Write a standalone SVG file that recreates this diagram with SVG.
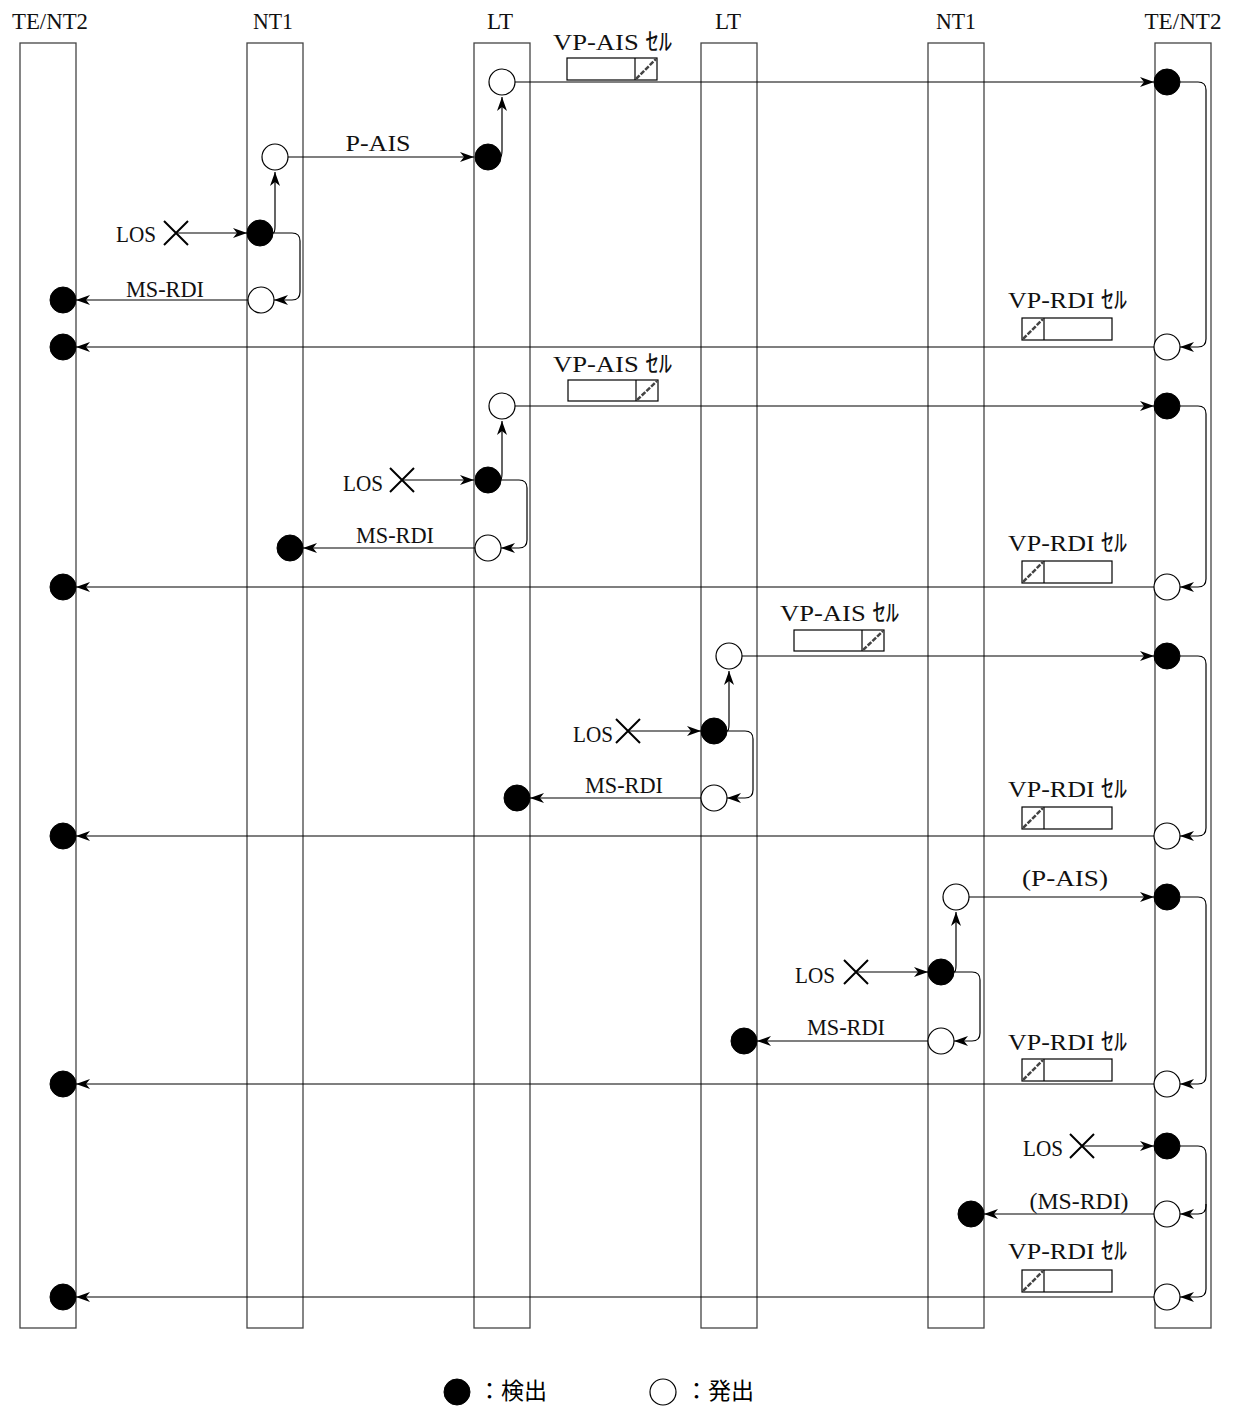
<svg xmlns="http://www.w3.org/2000/svg" width="1240" height="1407" viewBox="0 0 1240 1407">
<style>
.life{fill:#fff;stroke:#444;stroke-width:1.3}
.t{font-family:"Liberation Serif","Noto Sans CJK JP",serif;font-size:24px;fill:#111}
.lg{font-family:"Noto Sans CJK JP",sans-serif;font-size:23px;fill:#000}
.c{fill:none;stroke:#000;stroke-width:1.2}
.ar{marker-end:url(#arr)}
.det{fill:#000;stroke:#000;stroke-width:1}
.emi{fill:#fff;stroke:#000;stroke-width:1.2}
.x{stroke:#000;stroke-width:2;fill:none}
.cell{fill:#fff;stroke:#000;stroke-width:1.2}
.hat{stroke:#444;stroke-width:2.5;stroke-dasharray:5 1.5;fill:none}
</style>
<defs>
<marker id="arr" markerUnits="userSpaceOnUse" markerWidth="15" markerHeight="12" refX="14" refY="5" orient="auto">
<path d="M0,0 L14,5 L0,10 L4,5 z" fill="#000"/>
</marker>
</defs>
<rect width="1240" height="1407" fill="#fff"/>

<g id="lifelines">
<g id="te-left"><rect class="life" x="20" y="43" width="56" height="1285"/><text class="t" x="50" y="29" text-anchor="middle" textLength="76" lengthAdjust="spacingAndGlyphs">TE/NT2</text></g>
<g id="nt1-left"><rect class="life" x="247" y="43" width="56" height="1285"/><text class="t" x="273" y="29" text-anchor="middle" textLength="40" lengthAdjust="spacingAndGlyphs">NT1</text></g>
<g id="lt-left"><rect class="life" x="474" y="43" width="56" height="1285"/><text class="t" x="500" y="29" text-anchor="middle" textLength="26" lengthAdjust="spacingAndGlyphs">LT</text></g>
<g id="lt-right"><rect class="life" x="701" y="43" width="56" height="1285"/><text class="t" x="728" y="29" text-anchor="middle" textLength="26" lengthAdjust="spacingAndGlyphs">LT</text></g>
<g id="nt1-right"><rect class="life" x="928" y="43" width="56" height="1285"/><text class="t" x="956" y="29" text-anchor="middle" textLength="40" lengthAdjust="spacingAndGlyphs">NT1</text></g>
<g id="te-right"><rect class="life" x="1155" y="43" width="56" height="1285"/><text class="t" x="1183" y="29" text-anchor="middle" textLength="77" lengthAdjust="spacingAndGlyphs">TE/NT2</text></g>
</g>

<g id="connectors">
<!-- section 1 -->
<path class="c ar" d="M515,82 H1154"/>
<path class="c ar" d="M288,157 H474"/>
<path class="c ar" d="M500,157 Q502,157 502,150 V97"/>
<path class="c ar" d="M176,233 H247"/>
<path class="c ar" d="M273,233 Q275,233 275,226 V172"/>
<path class="c ar" d="M273,233 H292 Q300,233 300,241 V292 Q300,300 292,300 H274"/>
<path class="c ar" d="M248,300 H76"/>
<path class="c ar" d="M1180,82 H1198 Q1206,82 1206,90 V339 Q1206,347 1198,347 H1180"/>
<path class="c ar" d="M1154,347 H76"/>
<!-- section 2 -->
<path class="c ar" d="M515,406 H1154"/>
<path class="c ar" d="M402,480 H474"/>
<path class="c ar" d="M500,480 Q502,480 502,473 V421"/>
<path class="c ar" d="M501,480 H519 Q527,480 527,488 V540 Q527,548 519,548 H501"/>
<path class="c ar" d="M475,548 H303"/>
<path class="c ar" d="M1180,406 H1198 Q1206,406 1206,414 V579 Q1206,587 1198,587 H1180"/>
<path class="c ar" d="M1154,587 H76"/>
<!-- section 3 -->
<path class="c ar" d="M742,656 H1154"/>
<path class="c ar" d="M628,731 H701"/>
<path class="c ar" d="M727,731 Q729,731 729,724 V671"/>
<path class="c ar" d="M727,731 H745 Q753,731 753,739 V790 Q753,798 745,798 H727"/>
<path class="c ar" d="M701,798 H530"/>
<path class="c ar" d="M1180,656 H1198 Q1206,656 1206,664 V828 Q1206,836 1198,836 H1180"/>
<path class="c ar" d="M1154,836 H76"/>
<!-- section 4 -->
<path class="c ar" d="M969,897 H1154"/>
<path class="c ar" d="M856,972 H928"/>
<path class="c ar" d="M954,972 Q956,972 956,965 V912"/>
<path class="c ar" d="M954,972 H972 Q980,972 980,980 V1033 Q980,1041 972,1041 H954"/>
<path class="c ar" d="M928,1041 H757"/>
<path class="c ar" d="M1180,897 H1198 Q1206,897 1206,905 V1076 Q1206,1084 1198,1084 H1180"/>
<path class="c ar" d="M1154,1084 H76"/>
<!-- section 5 -->
<path class="c ar" d="M1082,1146 H1154"/>
<path class="c ar" d="M1180,1146 H1198 Q1206,1146 1206,1154 V1206 Q1206,1214 1198,1214 H1180"/>
<path class="c ar" d="M1206,1204 V1289 Q1206,1297 1198,1297 H1180"/>
<path class="c ar" d="M1154,1214 H984"/>
<path class="c ar" d="M1154,1297 H76"/>
</g>

<g id="labels">
<text class="t" x="553" y="50" textLength="119" lengthAdjust="spacingAndGlyphs">VP-AIS ｾﾙ</text>
<text class="t" x="378" y="151" text-anchor="middle" textLength="65" lengthAdjust="spacingAndGlyphs">P-AIS</text>
<text class="t" x="116" y="242" textLength="40" lengthAdjust="spacingAndGlyphs">LOS</text>
<text class="t" x="165" y="297" text-anchor="middle" textLength="78" lengthAdjust="spacingAndGlyphs">MS-RDI</text>
<text class="t" x="1008" y="308" textLength="119" lengthAdjust="spacingAndGlyphs">VP-RDI ｾﾙ</text>

<text class="t" x="553" y="372" textLength="119" lengthAdjust="spacingAndGlyphs">VP-AIS ｾﾙ</text>
<text class="t" x="343" y="491" textLength="40" lengthAdjust="spacingAndGlyphs">LOS</text>
<text class="t" x="395" y="543" text-anchor="middle" textLength="78" lengthAdjust="spacingAndGlyphs">MS-RDI</text>
<text class="t" x="1008" y="551" textLength="119" lengthAdjust="spacingAndGlyphs">VP-RDI ｾﾙ</text>

<text class="t" x="780" y="621" textLength="119" lengthAdjust="spacingAndGlyphs">VP-AIS ｾﾙ</text>
<text class="t" x="573" y="742" textLength="40" lengthAdjust="spacingAndGlyphs">LOS</text>
<text class="t" x="624" y="793" text-anchor="middle" textLength="78" lengthAdjust="spacingAndGlyphs">MS-RDI</text>
<text class="t" x="1008" y="797" textLength="119" lengthAdjust="spacingAndGlyphs">VP-RDI ｾﾙ</text>

<text class="t" x="1065" y="886" text-anchor="middle" textLength="86" lengthAdjust="spacingAndGlyphs">(P-AIS)</text>
<text class="t" x="795" y="983" textLength="40" lengthAdjust="spacingAndGlyphs">LOS</text>
<text class="t" x="846" y="1035" text-anchor="middle" textLength="78" lengthAdjust="spacingAndGlyphs">MS-RDI</text>
<text class="t" x="1008" y="1050" textLength="119" lengthAdjust="spacingAndGlyphs">VP-RDI ｾﾙ</text>

<text class="t" x="1023" y="1156" textLength="40" lengthAdjust="spacingAndGlyphs">LOS</text>
<text class="t" x="1079" y="1209" text-anchor="middle" textLength="99" lengthAdjust="spacingAndGlyphs">(MS-RDI)</text>
<text class="t" x="1008" y="1259" textLength="119" lengthAdjust="spacingAndGlyphs">VP-RDI ｾﾙ</text>
</g>

<g id="cells">
<g id="cell-ais-1"><rect class="cell" x="567" y="58" width="90" height="22"/><line class="cell" x1="635" y1="58" x2="635" y2="80"/><line class="hat" x1="636" y1="79" x2="656" y2="59"/></g>
<g id="cell-ais-2"><rect class="cell" x="568" y="380" width="90" height="21"/><line class="cell" x1="636" y1="380" x2="636" y2="401"/><line class="hat" x1="637" y1="400" x2="657" y2="381"/></g>
<g id="cell-ais-3"><rect class="cell" x="794" y="630" width="90" height="21"/><line class="cell" x1="862" y1="630" x2="862" y2="651"/><line class="hat" x1="863" y1="650" x2="883" y2="631"/></g>
<g id="cell-rdi-1"><rect class="cell" x="1022" y="318" width="90" height="22"/><line class="cell" x1="1044" y1="318" x2="1044" y2="340"/><line class="hat" x1="1023" y1="339" x2="1043" y2="319"/></g>
<g id="cell-rdi-2"><rect class="cell" x="1022" y="561" width="90" height="22"/><line class="cell" x1="1044" y1="561" x2="1044" y2="583"/><line class="hat" x1="1023" y1="582" x2="1043" y2="562"/></g>
<g id="cell-rdi-3"><rect class="cell" x="1022" y="807" width="90" height="22"/><line class="cell" x1="1044" y1="807" x2="1044" y2="829"/><line class="hat" x1="1023" y1="828" x2="1043" y2="808"/></g>
<g id="cell-rdi-4"><rect class="cell" x="1022" y="1059" width="90" height="22"/><line class="cell" x1="1044" y1="1059" x2="1044" y2="1081"/><line class="hat" x1="1023" y1="1080" x2="1043" y2="1060"/></g>
<g id="cell-rdi-5"><rect class="cell" x="1022" y="1270" width="90" height="22"/><line class="cell" x1="1044" y1="1270" x2="1044" y2="1292"/><line class="hat" x1="1023" y1="1291" x2="1043" y2="1271"/></g>
</g>

<g id="los-marks">
<g id="los-1"><path class="x" d="M164,221 L188,245 M188,221 L164,245"/></g>
<g id="los-2"><path class="x" d="M390,468 L414,492 M414,468 L390,492"/></g>
<g id="los-3"><path class="x" d="M616,719 L640,743 M640,719 L616,743"/></g>
<g id="los-4"><path class="x" d="M844,960 L868,984 M868,960 L844,984"/></g>
<g id="los-5"><path class="x" d="M1070,1134 L1094,1158 M1094,1134 L1070,1158"/></g>
</g>

<g id="events">
<!-- section 1 -->
<g id="e1-lt-emit"><circle class="emi" cx="502" cy="82" r="13"/></g>
<g id="e1-te-det"><circle class="det" cx="1167" cy="82" r="13"/></g>
<g id="e1-nt1-emit"><circle class="emi" cx="275" cy="157" r="13"/></g>
<g id="e1-lt-det"><circle class="det" cx="488" cy="157" r="13"/></g>
<g id="e1-nt1-det"><circle class="det" cx="260" cy="233" r="13"/></g>
<g id="e1-nt1-emit2"><circle class="emi" cx="261" cy="300" r="13"/></g>
<g id="e1-te-det2"><circle class="det" cx="63" cy="300" r="13"/></g>
<g id="e1-te-emit"><circle class="emi" cx="1167" cy="347" r="13"/></g>
<g id="e1-te-det3"><circle class="det" cx="63" cy="347" r="13"/></g>
<!-- section 2 -->
<g id="e2-lt-emit"><circle class="emi" cx="502" cy="406" r="13"/></g>
<g id="e2-te-det"><circle class="det" cx="1167" cy="406" r="13"/></g>
<g id="e2-lt-det"><circle class="det" cx="488" cy="480" r="13"/></g>
<g id="e2-lt-emit2"><circle class="emi" cx="488" cy="548" r="13"/></g>
<g id="e2-nt1-det"><circle class="det" cx="290" cy="548" r="13"/></g>
<g id="e2-te-emit"><circle class="emi" cx="1167" cy="587" r="13"/></g>
<g id="e2-te-det2"><circle class="det" cx="63" cy="587" r="13"/></g>
<!-- section 3 -->
<g id="e3-lt-emit"><circle class="emi" cx="729" cy="656" r="13"/></g>
<g id="e3-te-det"><circle class="det" cx="1167" cy="656" r="13"/></g>
<g id="e3-lt-det"><circle class="det" cx="714" cy="731" r="13"/></g>
<g id="e3-lt-emit2"><circle class="emi" cx="714" cy="798" r="13"/></g>
<g id="e3-lt1-det"><circle class="det" cx="517" cy="798" r="13"/></g>
<g id="e3-te-emit"><circle class="emi" cx="1167" cy="836" r="13"/></g>
<g id="e3-te-det2"><circle class="det" cx="63" cy="836" r="13"/></g>
<!-- section 4 -->
<g id="e4-nt1-emit"><circle class="emi" cx="956" cy="897" r="13"/></g>
<g id="e4-te-det"><circle class="det" cx="1167" cy="897" r="13"/></g>
<g id="e4-nt1-det"><circle class="det" cx="941" cy="972" r="13"/></g>
<g id="e4-nt1-emit2"><circle class="emi" cx="941" cy="1041" r="13"/></g>
<g id="e4-lt-det"><circle class="det" cx="744" cy="1041" r="13"/></g>
<g id="e4-te-emit"><circle class="emi" cx="1167" cy="1084" r="13"/></g>
<g id="e4-te-det2"><circle class="det" cx="63" cy="1084" r="13"/></g>
<!-- section 5 -->
<g id="e5-te-det"><circle class="det" cx="1167" cy="1146" r="13"/></g>
<g id="e5-te-emit"><circle class="emi" cx="1167" cy="1214" r="13"/></g>
<g id="e5-nt1-det"><circle class="det" cx="971" cy="1214" r="13"/></g>
<g id="e5-te-emit2"><circle class="emi" cx="1167" cy="1297" r="13"/></g>
<g id="e5-te-det2"><circle class="det" cx="63" cy="1297" r="13"/></g>
</g>

<g id="legend">
<g id="legend-det"><circle class="det" cx="457" cy="1392" r="13"/><text class="lg" x="478" y="1399">：検出</text></g>
<g id="legend-emi"><circle class="emi" cx="663" cy="1392" r="13"/><text class="lg" x="685" y="1399">：発出</text></g>
</g>
</svg>
